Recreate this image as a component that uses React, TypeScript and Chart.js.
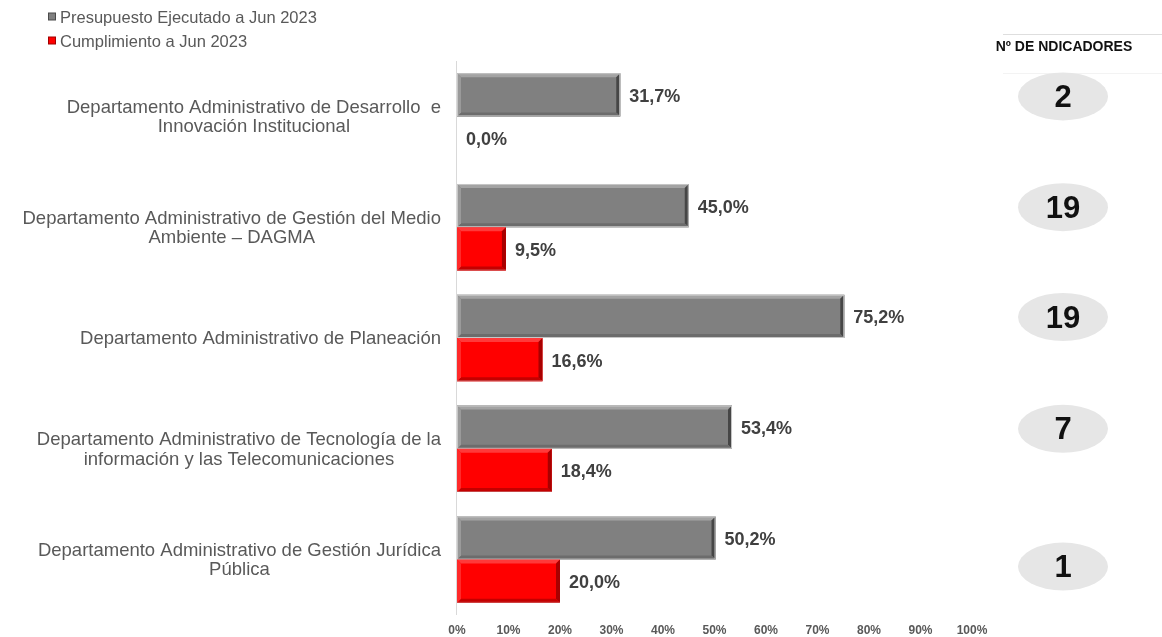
import React, { useEffect, useRef } from 'react';
import { Chart, registerables } from 'chart.js';

Chart.register(...registerables);

const categories: string[][] = [
  ['Departamento Administrativo de Desarrollo  e', 'Innovación Institucional'],
  ['Departamento Administrativo de Gestión del Medio', 'Ambiente – DAGMA'],
  ['Departamento Administrativo de Planeación'],
  ['Departamento Administrativo de Tecnología de la', 'información y las Telecomunicaciones'],
  ['Departamento Administrativo de Gestión Jurídica', 'Pública'],
];
const presupuesto = [31.7, 45.0, 75.2, 53.4, 50.2];
const cumplimiento = [0.0, 9.5, 16.6, 18.4, 20.0];
const indicadores = [2, 19, 19, 7, 1];
const seriesNames = ['Presupuesto Ejecutado a Jun 2023', 'Cumplimiento a Jun 2023'];
const indicatorTitle = 'Nº DE NDICADORES';
const xMin = 0;
const xMax = 100;
const xStep = 10;

const FONT = '"Liberation Sans", Arial, sans-serif';
const GRAY = '#808080';
const RED = '#ff0000';

const fmt = (v: number) => v.toFixed(1).replace('.', ',') + '%';

function bevel(ctx: CanvasRenderingContext2D, x0: number, yT: number, x1: number, yB: number, b: number, cols: string[]) {
  const [top, right, bottom, left] = cols;
  const poly = (pts: number[][], c: string) => {
    ctx.fillStyle = c;
    ctx.beginPath();
    ctx.moveTo(pts[0][0], pts[0][1]);
    for (let k = 1; k < pts.length; k++) ctx.lineTo(pts[k][0], pts[k][1]);
    ctx.closePath();
    ctx.fill();
  };
  poly([[x0, yT], [x1, yT], [x1 - b, yT + b], [x0 + b, yT + b]], top);
  poly([[x1, yT], [x1, yB], [x1 - b, yB - b], [x1 - b, yT + b]], right);
  poly([[x0, yB], [x1, yB], [x1 - b, yB - b], [x0 + b, yB - b]], bottom);
  poly([[x0, yT], [x0 + b, yT + b], [x0 + b, yB - b], [x0, yB]], left);
}

const decorPlugin = {
  id: 'decor',
  afterDatasetsDraw(chart: any) {
    const ctx = chart.ctx as CanvasRenderingContext2D;
    ctx.save();
    chart.data.datasets.forEach((ds: any, di: number) => {
      const meta = chart.getDatasetMeta(di);
      meta.data.forEach((bar: any) => {
        const x0 = Math.min(bar.base, bar.x);
        const x1 = Math.max(bar.base, bar.x);
        const w = x1 - x0;
        if (w < 1) return;
        const yT = bar.y - bar.height / 2;
        const yB = yT + bar.height;
        if (di === 0) {
          bevel(ctx, x0, yT, x1, yB, 4, ['#a3a3a3', '#464646', '#6c6c6c', '#9a9a9a']);
          ctx.strokeStyle = '#c6c6c6';
          ctx.lineWidth = 1;
          ctx.strokeRect(x0 + 0.5, yT + 0.5, w - 1, bar.height - 1);
        } else {
          bevel(ctx, x0, yT, x1, yB, 4, ['#ff3a3a', '#a80000', '#c40000', '#ff2a2a']);
          ctx.strokeStyle = 'rgba(200,120,120,0.6)';
          ctx.lineWidth = 1;
          ctx.beginPath();
          ctx.moveTo(x0, yB - 0.5);
          ctx.lineTo(x1, yB - 0.5);
          ctx.stroke();
        }
      });
      ctx.font = `bold 18px ${FONT}`;
      ctx.fillStyle = '#404040';
      ctx.textAlign = 'left';
      ctx.textBaseline = 'middle';
      meta.data.forEach((bar: any, i: number) => {
        ctx.fillText(fmt(ds.data[i]), Math.max(bar.x, bar.base) + 9, bar.y + 2);
      });
    });
    ctx.restore();
  },
  afterDraw(chart: any) {
    const ctx = chart.ctx as CanvasRenderingContext2D;
    const yScale = chart.scales.y;
    const area = chart.chartArea;
    ctx.save();
    ctx.strokeStyle = '#d9d9d9';
    ctx.lineWidth = 1;
    ctx.beginPath();
    ctx.moveTo(area.left - 0.5, area.top);
    ctx.lineTo(area.left - 0.5, area.bottom);
    ctx.stroke();

    ctx.font = `18.5px ${FONT}`;
    ctx.fillStyle = '#595959';
    ctx.textAlign = 'center';
    ctx.textBaseline = 'middle';
    const lineH = 19.5;
    categories.forEach((lines, i) => {
      const yc = yScale.getPixelForValue(i);
      const maxW = Math.max(...lines.map((l) => ctx.measureText(l).width));
      const cx = area.left - 16 - maxW / 2;
      lines.forEach((l, j) => {
        ctx.fillText(l, cx, yc + (j - (lines.length - 1) / 2) * lineH + 1);
      });
    });

    const legendColors = [GRAY, RED];
    const legendDark = ['#4a4a4a', '#a00000'];
    ctx.font = `16.5px ${FONT}`;
    ctx.textAlign = 'left';
    seriesNames.forEach((name, i) => {
      const y = 17 + i * 24;
      ctx.fillStyle = legendDark[i];
      ctx.fillRect(48, y - 4.5, 8, 8);
      ctx.fillStyle = legendColors[i];
      ctx.fillRect(49, y - 3.5, 6, 6);
      ctx.fillStyle = '#595959';
      ctx.fillText(name, 60, y + 1);
    });

    ctx.strokeStyle = '#dedede';
    ctx.beginPath();
    ctx.moveTo(1003, 34.5);
    ctx.lineTo(1162, 34.5);
    ctx.stroke();
    ctx.strokeStyle = '#f3f3f3';
    ctx.beginPath();
    ctx.moveTo(1003, 73.5);
    ctx.lineTo(1162, 73.5);
    ctx.stroke();

    ctx.font = `bold 14px ${FONT}`;
    ctx.fillStyle = '#111111';
    ctx.textAlign = 'center';
    ctx.fillText(indicatorTitle, 1064, 47);

    const offsets = [-20, -20, -21, -20, 7];
    indicadores.forEach((n, i) => {
      const yc = yScale.getPixelForValue(i) + offsets[i];
      ctx.fillStyle = '#e6e6e6';
      ctx.beginPath();
      ctx.ellipse(1063, yc, 45, 24, 0, 0, Math.PI * 2);
      ctx.fill();
      ctx.fillStyle = '#111111';
      ctx.font = `bold 31px ${FONT}`;
      ctx.fillText(String(n), 1063, yc + 2);
    });
    ctx.restore();
  },
};

export default function App() {
  const ref = useRef<HTMLCanvasElement>(null);
  useEffect(() => {
    document.body.style.margin = '0';
    const chart = new Chart(ref.current!, {
      type: 'bar',
      data: {
        labels: categories.map((c) => c.join(' ')),
        datasets: [
          { label: seriesNames[0], data: presupuesto, backgroundColor: GRAY, borderWidth: 0 },
          { label: seriesNames[1], data: cumplimiento, backgroundColor: RED, borderWidth: 0 },
        ],
      },
      options: {
        indexAxis: 'y',
        animation: false,
        responsive: false,
        devicePixelRatio: 1,
        datasets: { bar: { categoryPercentage: 0.78, barPercentage: 1 } },
        layout: { padding: { left: 457, right: 190, top: 61, bottom: 0 } },
        plugins: { legend: { display: false }, tooltip: { enabled: false } },
        scales: {
          y: { display: false },
          x: {
            min: xMin,
            max: xMax,
            grid: { display: false, drawTicks: false },
            border: { display: false },
            ticks: {
              stepSize: xStep,
              padding: 8,
              color: '#595959',
              font: { family: FONT, size: 12, weight: 'bold' },
              callback: (v: any) => v + '%',
            },
            afterFit: (scale: any) => {
              scale.height = 22;
            },
          },
        },
      },
      plugins: [decorPlugin],
    } as any);
    return () => chart.destroy();
  }, []);
  return (
    <div style={{ width: 1162, height: 637, position: 'relative', background: '#fff' }}>
      <canvas ref={ref} width={1162} height={637} />
    </div>
  );
}
